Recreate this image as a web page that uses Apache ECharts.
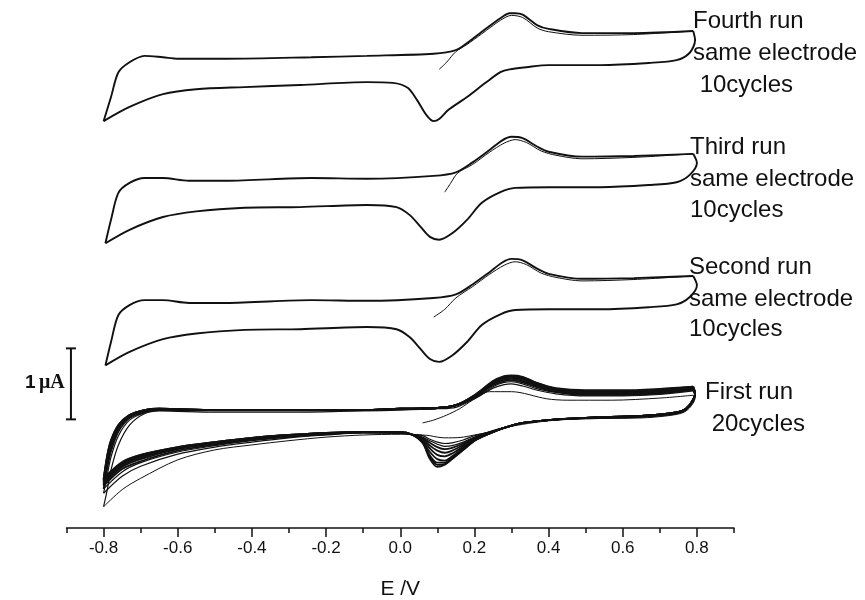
<!DOCTYPE html>
<html><head><meta charset="utf-8">
<script src="https://cdn.jsdelivr.net/npm/echarts@6/dist/echarts.min.js"></script>
<style>html,body{margin:0;padding:0;background:#fff}#c{width:865px;height:600px}</style>
</head><body><div id="c"></div>
<script>
// ---- tick labels ----
const majorTicks = [-0.8,-0.6,-0.4,-0.2,0.0,0.2,0.4,0.6,0.8];
const minorTicks = [-0.9,-0.7,-0.5,-0.3,-0.1,0.1,0.3,0.5,0.7,0.9];

// ---- Fourth run (top) ----
const e4Fwd = [-0.80,-0.78,-0.76,-0.73,-0.69,-0.64,-0.60,-0.47,-0.24,-0.09,0.09,0.15,0.18,0.22,0.27,0.295,0.31,0.33,0.37,0.40,0.49,0.63,0.79];
const i4Fwd = [5.73,6.07,6.42,6.56,6.65,6.63,6.61,6.61,6.63,6.65,6.68,6.73,6.83,6.99,7.18,7.25,7.25,7.23,7.08,7.03,6.97,6.97,7.00];
const e4Rev = [0.79,0.795,0.78,0.745,0.67,0.54,0.40,0.34,0.295,0.27,0.23,0.18,0.13,0.105,0.09,0.07,0.045,0.02,-0.02,-0.09,-0.27,-0.42,-0.55,-0.64,-0.73,-0.80];
const i4Rev = [7.00,6.87,6.69,6.59,6.55,6.52,6.52,6.49,6.46,6.42,6.27,6.07,5.89,5.76,5.73,5.82,6.03,6.20,6.27,6.28,6.24,6.21,6.18,6.11,5.93,5.73];
const e4Tail = [0.105,0.125,0.15,0.18,0.22,0.27,0.30,0.33,0.37,0.40,0.49,0.63,0.79];
const i4Tail = [6.46,6.56,6.71,6.81,6.96,7.15,7.22,7.19,7.04,6.99,6.94,6.95,7.00];

// ---- Third run ----
const e3Fwd = [-0.795,-0.78,-0.76,-0.73,-0.69,-0.64,-0.57,-0.47,-0.24,-0.09,0.09,0.15,0.195,0.24,0.275,0.30,0.33,0.37,0.40,0.49,0.63,0.79];
const i3Fwd = [4.01,4.34,4.72,4.86,4.93,4.93,4.89,4.89,4.93,4.92,4.96,5.01,5.15,5.32,5.46,5.51,5.49,5.37,5.30,5.23,5.24,5.27];
const e3Rev = [0.79,0.80,0.78,0.745,0.67,0.54,0.40,0.31,0.27,0.22,0.18,0.14,0.105,0.08,0.055,0.025,-0.01,-0.09,-0.27,-0.42,-0.55,-0.64,-0.73,-0.795];
const i3Rev = [5.27,5.14,4.97,4.87,4.83,4.80,4.80,4.79,4.73,4.58,4.34,4.15,4.06,4.10,4.24,4.41,4.52,4.55,4.52,4.51,4.46,4.38,4.20,4.01];
const e3Tail = [0.12,0.135,0.155,0.195,0.24,0.28,0.31,0.34,0.38,0.42,0.49,0.63,0.79];
const i3Tail = [4.73,4.85,5.00,5.12,5.29,5.42,5.47,5.43,5.31,5.25,5.20,5.22,5.27];

// ---- Second run ----
const e2Fwd = [-0.795,-0.78,-0.76,-0.73,-0.69,-0.64,-0.57,-0.47,-0.24,-0.09,0.09,0.15,0.195,0.24,0.275,0.30,0.33,0.37,0.40,0.49,0.63,0.79];
const i2Fwd = [2.29,2.62,3.00,3.14,3.21,3.21,3.17,3.17,3.21,3.20,3.24,3.29,3.43,3.60,3.74,3.79,3.77,3.65,3.58,3.51,3.52,3.55];
const e2Rev = [0.79,0.80,0.78,0.745,0.67,0.54,0.40,0.31,0.27,0.22,0.18,0.14,0.105,0.08,0.055,0.025,-0.01,-0.09,-0.27,-0.42,-0.55,-0.64,-0.73,-0.795];
const i2Rev = [3.55,3.42,3.25,3.15,3.11,3.08,3.08,3.07,3.01,2.86,2.62,2.43,2.34,2.38,2.52,2.69,2.80,2.83,2.80,2.79,2.74,2.66,2.48,2.29];
const e2Tail = [0.09,0.12,0.15,0.195,0.24,0.28,0.31,0.34,0.38,0.42,0.49,0.63,0.79];
const i2Tail = [2.97,3.08,3.24,3.40,3.57,3.70,3.75,3.71,3.59,3.53,3.48,3.50,3.55];

const e1Fwd = [-0.80,-0.79,-0.78,-0.76,-0.73,-0.69,-0.65,-0.5,-0.3,-0.1,0.0,0.1,0.15,0.2,0.25,0.28,0.30,0.33,0.37,0.42,0.5,0.6,0.7,0.79];
const e1Rev = [0.79,0.795,0.78,0.76,0.72,0.65,0.5,0.4,0.33,0.28,0.24,0.2,0.17,0.14,0.12,0.1,0.08,0.06,0.03,0.0,-0.1,-0.2,-0.3,-0.4,-0.5,-0.6,-0.7,-0.75,-0.8];
const e1Tail = [0.06,0.09,0.125,0.16,0.195,0.24,0.30,0.395,0.45,0.57,0.70,0.79];
const i1Tail = [1.48,1.52,1.59,1.68,1.80,1.92,1.92,1.82,1.80,1.80,1.83,1.87];
const i1Rev_c1  = [1.87,1.83,1.69,1.62,1.58,1.55,1.54,1.51,1.46,1.41,1.35,1.31,1.28,1.27,1.27,1.28,1.30,1.31,1.32,1.32,1.31,1.28,1.23,1.17,1.10,0.96,0.70,0.54,0.30];
const i1Fwd_c2  = [0.30,0.54,0.82,1.17,1.45,1.61,1.65,1.63,1.63,1.65,1.66,1.68,1.70,1.82,1.97,2.02,2.03,2.00,1.94,1.89,1.86,1.86,1.88,1.93];
const i1Rev_c2  = [1.93,1.86,1.71,1.63,1.59,1.56,1.54,1.52,1.48,1.41,1.35,1.30,1.24,1.20,1.19,1.21,1.25,1.30,1.32,1.34,1.34,1.31,1.27,1.21,1.14,1.04,0.87,0.73,0.49];
const i1Fwd_c3  = [0.49,0.75,1.00,1.30,1.52,1.62,1.66,1.65,1.65,1.66,1.68,1.69,1.72,1.83,1.99,2.05,2.06,2.03,1.96,1.91,1.87,1.87,1.89,1.94];
const i1Rev_c3  = [1.94,1.87,1.72,1.64,1.60,1.57,1.55,1.52,1.48,1.41,1.35,1.28,1.21,1.16,1.15,1.18,1.23,1.28,1.32,1.34,1.34,1.32,1.28,1.23,1.16,1.07,0.92,0.79,0.55];
const i1Fwd_c4  = [0.55,0.85,1.08,1.36,1.55,1.63,1.66,1.66,1.66,1.66,1.68,1.69,1.73,1.84,2.01,2.07,2.08,2.05,1.98,1.92,1.88,1.88,1.90,1.95];
const i1Rev_c4  = [1.95,1.88,1.72,1.64,1.60,1.57,1.55,1.52,1.48,1.41,1.35,1.27,1.19,1.13,1.11,1.14,1.20,1.27,1.32,1.34,1.35,1.32,1.29,1.24,1.17,1.09,0.94,0.83,0.59];
const i1Fwd_c6  = [0.60,0.90,1.13,1.40,1.57,1.65,1.67,1.66,1.66,1.66,1.68,1.69,1.73,1.85,2.03,2.09,2.10,2.07,2.00,1.93,1.89,1.89,1.91,1.96];
const i1Rev_c6  = [1.96,1.88,1.73,1.65,1.61,1.58,1.55,1.52,1.48,1.41,1.34,1.26,1.17,1.09,1.06,1.09,1.16,1.26,1.32,1.34,1.35,1.33,1.30,1.25,1.19,1.11,0.97,0.86,0.62];
const i1Fwd_c8  = [0.62,0.94,1.16,1.42,1.58,1.65,1.67,1.66,1.66,1.66,1.68,1.69,1.73,1.85,2.04,2.10,2.11,2.09,2.01,1.94,1.90,1.90,1.92,1.97];
const i1Rev_c8  = [1.97,1.89,1.73,1.65,1.61,1.58,1.55,1.52,1.48,1.41,1.34,1.25,1.15,1.05,1.01,1.03,1.12,1.24,1.32,1.34,1.35,1.33,1.30,1.26,1.20,1.12,0.99,0.88,0.65];
const i1Fwd_c11 = [0.65,0.98,1.19,1.43,1.58,1.66,1.68,1.66,1.66,1.66,1.68,1.69,1.73,1.86,2.05,2.12,2.13,2.10,2.02,1.95,1.91,1.91,1.93,1.98];
const i1Rev_c11 = [1.98,1.89,1.73,1.65,1.61,1.58,1.55,1.52,1.48,1.41,1.33,1.24,1.13,1.01,0.95,0.97,1.07,1.22,1.32,1.35,1.35,1.34,1.31,1.26,1.20,1.13,1.01,0.90,0.67];
const i1Fwd_c14 = [0.67,1.00,1.21,1.44,1.59,1.66,1.68,1.66,1.66,1.66,1.68,1.69,1.73,1.86,2.06,2.13,2.14,2.12,2.03,1.95,1.92,1.92,1.94,1.98];
const i1Rev_c14 = [1.98,1.90,1.73,1.65,1.61,1.58,1.55,1.52,1.48,1.41,1.33,1.23,1.11,0.99,0.92,0.92,1.02,1.21,1.32,1.35,1.35,1.34,1.31,1.27,1.21,1.13,1.02,0.91,0.68];
const i1Fwd_c17 = [0.68,1.02,1.23,1.45,1.59,1.66,1.68,1.66,1.66,1.66,1.68,1.69,1.73,1.87,2.06,2.13,2.14,2.12,2.04,1.96,1.93,1.93,1.95,1.99];
const i1Rev_c17 = [1.99,1.90,1.73,1.65,1.61,1.58,1.55,1.52,1.48,1.41,1.33,1.23,1.10,0.98,0.90,0.89,1.00,1.20,1.32,1.35,1.35,1.34,1.31,1.27,1.21,1.14,1.03,0.92,0.69];
const i1Fwd_c20 = [0.69,1.03,1.24,1.45,1.59,1.66,1.68,1.66,1.66,1.66,1.68,1.69,1.73,1.87,2.07,2.14,2.15,2.13,2.04,1.97,1.94,1.94,1.96,1.99];
const i1Rev_c20 = [1.99,1.90,1.73,1.65,1.61,1.58,1.55,1.52,1.48,1.41,1.33,1.23,1.10,0.97,0.89,0.86,0.97,1.20,1.32,1.35,1.35,1.34,1.31,1.27,1.21,1.14,1.03,0.93,0.70];

// ---- scale bar (1 µA) ----
const scaleBarE = -0.888;
const scaleBarI = [1.53, 2.53];

// ---- annotations ----
const runLabels = [
  ['Fourth run', 'same electrode', ' 10cycles'],
  ['Third run', 'same electrode', '10cycles'],
  ['Second run', 'same electrode', '10cycles'],
  ['First run', ' 20cycles']
];

const FONT = '"Liberation Sans", Arial, sans-serif';
const zip = (e, i) => e.map((x, k) => [x, i[k]]);
const series = [];
function curve(e, i, w) {
  series.push({
    type: 'line', data: zip(e, i), showSymbol: false, smooth: 0.3,
    lineStyle: { color: '#111', width: w }, silent: true, animation: false, z: 3
  });
}
// runs 2-4
curve(e4Tail, i4Tail, 1); curve(e4Fwd, i4Fwd, 1.9); curve(e4Rev, i4Rev, 1.9);
curve(e3Tail, i3Tail, 1); curve(e3Fwd, i3Fwd, 1.9); curve(e3Rev, i3Rev, 1.9);
curve(e2Tail, i2Tail, 1); curve(e2Fwd, i2Fwd, 1.9); curve(e2Rev, i2Rev, 1.9);
// run 1
curve(e1Tail, i1Tail, 1); curve(e1Rev, i1Rev_c1, 1);
[[i1Fwd_c2, i1Rev_c2], [i1Fwd_c3, i1Rev_c3], [i1Fwd_c4, i1Rev_c4], [i1Fwd_c6, i1Rev_c6],
 [i1Fwd_c8, i1Rev_c8], [i1Fwd_c11, i1Rev_c11], [i1Fwd_c14, i1Rev_c14], [i1Fwd_c17, i1Rev_c17],
 [i1Fwd_c20, i1Rev_c20]].forEach(([f, r], k) => { const w = k < 2 ? 1.2 : 1.8; curve(e1Fwd, f, w); curve(e1Rev, r, w); });

// scale bar
series.push({
  type: 'line', data: scaleBarI.map(v => [scaleBarE, v]),
  showSymbol: true, showAllSymbol: true, symbol: 'rect', symbolSize: [10, 2],
  itemStyle: { color: '#111' }, lineStyle: { color: '#111', width: 2 },
  silent: true, animation: false
});

const labelPos = [
  { x: 693, y: [22, 54, 86] },
  { x: 690, y: [148, 180, 211] },
  { x: 689, y: [268, 300, 330] },
  { x: 705, y: [393, 425] }
];
const graphics = [];
runLabels.forEach((lines, r) => {
  lines.forEach((t, k) => {
    graphics.push({
      type: 'text', left: labelPos[r].x, top: labelPos[r].y[k] - 13,
      style: { text: t, font: '24px ' + FONT, fill: '#111' }
    });
  });
});
graphics.push({
  type: 'text', left: 25, top: 373,
  style: {
    text: '{a|1} {b|μA}',
    rich: {
      a: { fontFamily: FONT, fontWeight: 'bold', fontSize: 19, fill: '#111' },
      b: { fontFamily: '"Liberation Serif", "Times New Roman", serif', fontWeight: 'bold', fontSize: 20, fill: '#111' }
    }
  }
});

const chart = echarts.init(document.getElementById('c'), null, { renderer: 'canvas' });
chart.setOption({
  animation: false,
  backgroundColor: '#fff',
  grid: { left: 66.5, right: 131, top: 2.6, bottom: 72, containLabel: false, outerBoundsMode: 'none' },
  xAxis: [{
    type: 'value', min: -0.9, max: 0.9, position: 'bottom',
    name: 'E /V', nameLocation: 'middle', nameGap: 51,
    nameTextStyle: { fontFamily: FONT, fontSize: 21, color: '#111' },
    axisLine: { onZero: false, lineStyle: { color: '#111', width: 1.5 } },
    axisTick: { customValues: majorTicks, length: 9, lineStyle: { color: '#111', width: 1.5 } },
    axisLabel: { customValues: majorTicks, margin: 12, fontFamily: FONT, fontSize: 17, color: '#111',
      formatter: v => v.toFixed(1) },
    splitLine: { show: false }
  }, {
    type: 'value', min: -0.9, max: 0.9, position: 'bottom',
    axisLine: { show: false, onZero: false },
    axisTick: { customValues: minorTicks, length: 5, lineStyle: { color: '#111', width: 1.5 } },
    axisLabel: { show: false }, splitLine: { show: false }
  }],
  yAxis: { type: 'value', min: 0, max: 7.4, show: false },
  series: series,
  graphic: graphics
});
</script></body></html>
